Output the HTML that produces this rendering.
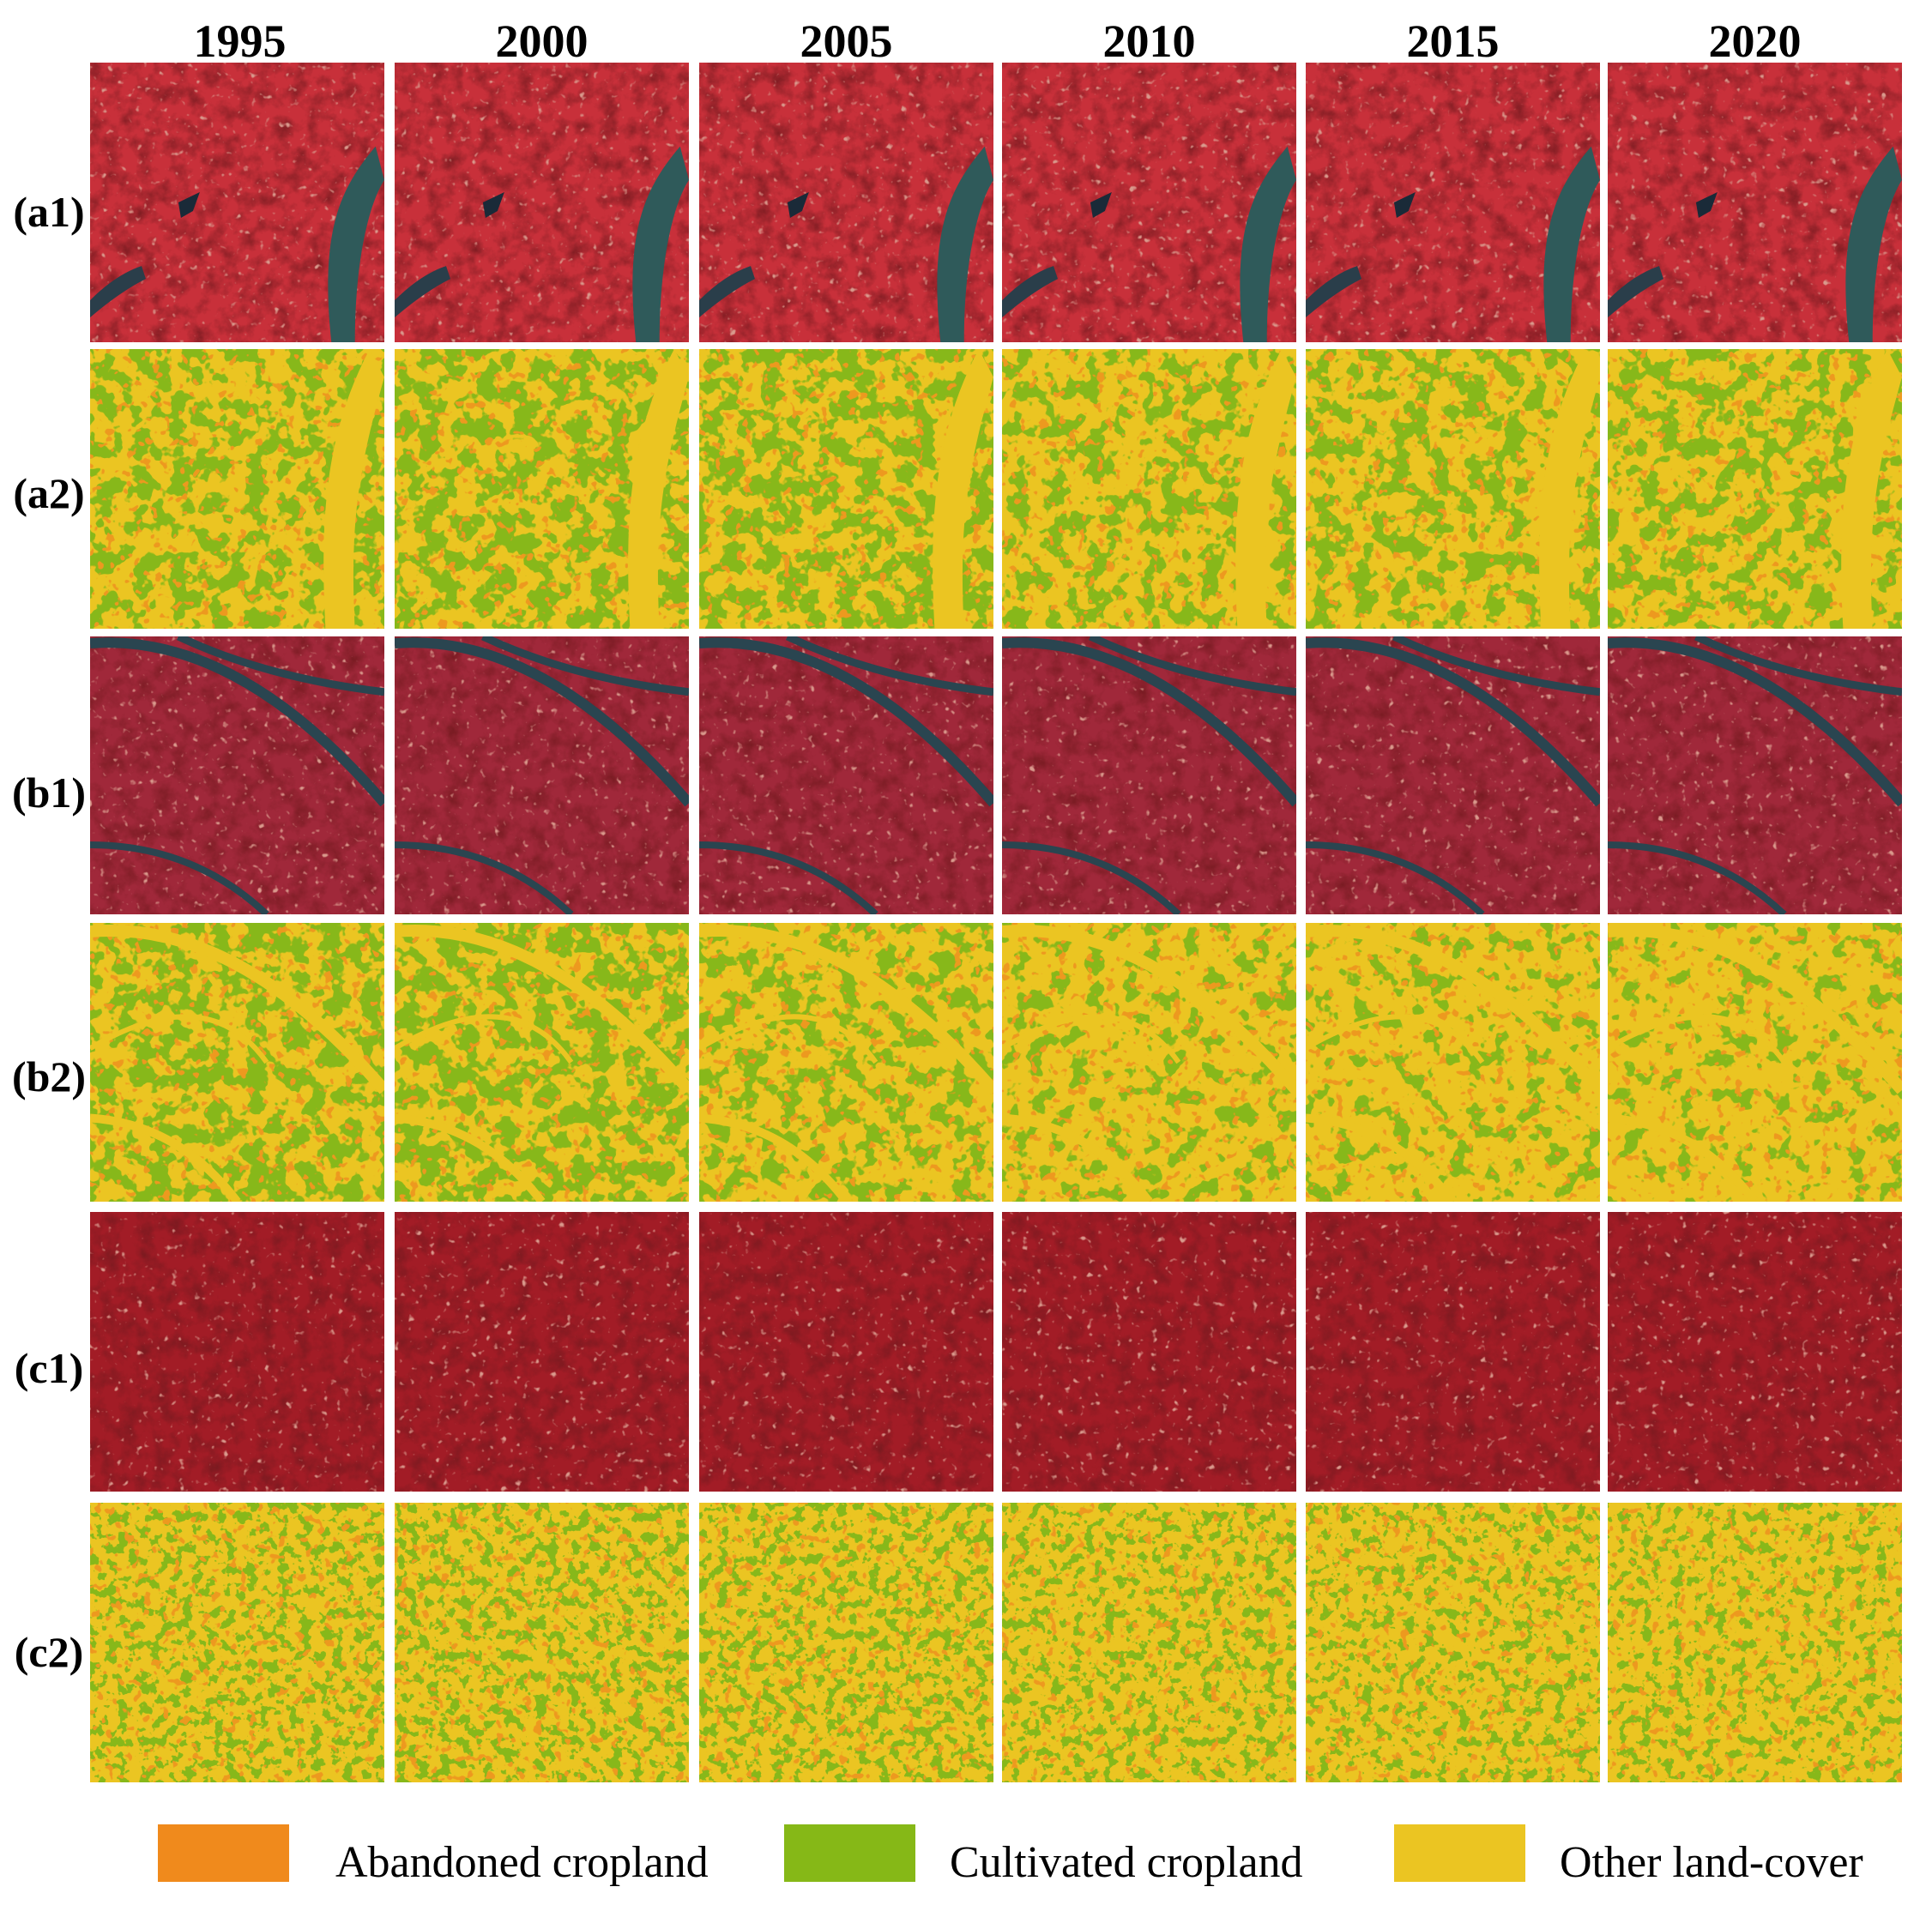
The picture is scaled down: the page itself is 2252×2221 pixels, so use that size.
<!DOCTYPE html>
<html><head><meta charset="utf-8"><style>
html,body{margin:0;padding:0;background:#fff;}
svg{display:block;}
</style></head><body>
<svg id="fig" width="2252" height="2221" viewBox="0 0 2252 2221" xmlns="http://www.w3.org/2000/svg">
<defs id="defs"></defs>
<g id="panels"></g>
<g id="labels" font-family="Liberation Serif, serif" font-weight="bold" fill="#000"></g>
<g id="legend" font-family="Liberation Serif, serif" fill="#000"></g>
</svg>
<script>
const years = ['1995','2000','2005','2010','2015','2020'];
const rowLabels = ['(a1)','(a2)','(b1)','(b2)','(c1)','(c2)'];
const rowKinds = ['img','map','img','map','img','map'];
// approximate green (cultivated) share per map row per year
const greenA2 = [0.5,0.55,0.55,0.45,0.47,0.47];
const greenB2 = [0.55,0.58,0.45,0.32,0.3,0.25];
const greenC2 = [0.38,0.38,0.38,0.35,0.32,0.3];
const imgBase = ['#c8303a','#a0283a','#a21c26'];
const legendLabels = ['Abandoned cropland','Cultivated cropland','Other land-cover'];
const legendColors = ['#f08a1c','#86b817','#ebc522'];

const colX = [105,460,815,1168,1522,1874];
const colW = 343;
const rowY = [73,407,742,1076,1413,1752];
const rowH = [326,326,324,325,326,326];
const rowLabelY = [247,575,924,1255,1595,1926];

const NS='http://www.w3.org/2000/svg';
const defs=document.getElementById('defs');
const panels=document.getElementById('panels');
function mk(tag,attrs,parent){const e=document.createElementNS(NS,tag);for(const k in attrs)e.setAttribute(k,attrs[k]);if(parent)parent.appendChild(e);return e;}

let fid=0;
function mapFilter(frac,seed,freq){
  const id='mf'+(fid++);
  const f=mk('filter',{id:id,x:'0',y:'0',width:'1',height:'1','color-interpolation-filters':'sRGB'},defs);
  mk('feTurbulence',{type:'fractalNoise',baseFrequency:freq,numOctaves:'3',seed:seed,result:'n'},f);
  const t=0.5+(0.5-frac)*0.35;
  mk('feColorMatrix',{in:'n',type:'matrix',values:'0 0 0 0 0.53 0 0 0 0 0.72 0 0 0 0 0.1 25 0 0 0 '+(-25*t),result:'g'},f);
  mk('feTurbulence',{type:'fractalNoise',baseFrequency:'0.09',numOctaves:'2',seed:seed+50,result:'n2'},f);
  mk('feColorMatrix',{in:'n2',type:'matrix',values:'0 0 0 0 0.93 0 0 0 0 0.6 0 0 0 0 0.12 20 0 0 0 -12.8',result:'o'},f);
  mk('feComposite',{in:'g',in2:'SourceGraphic',operator:'in',result:'g2'},f);
  mk('feComposite',{in:'o',in2:'SourceGraphic',operator:'in',result:'o2'},f);
  const m=mk('feMerge',{},f);
  mk('feMergeNode',{in:'SourceGraphic'},m);mk('feMergeNode',{in:'g2'},m);mk('feMergeNode',{in:'o2'},m);
  return id;
}
function imgFilter(seed){
  const id='if'+(fid++);
  const f=mk('filter',{id:id,x:'0',y:'0',width:'1',height:'1','color-interpolation-filters':'sRGB'},defs);
  mk('feTurbulence',{type:'fractalNoise',baseFrequency:'0.05',numOctaves:'4',seed:seed,result:'n'},f);
  mk('feColorMatrix',{in:'n',type:'matrix',values:'0 0 0 0 0.45 0 0 0 0 0.1 0 0 0 0 0.12 -1.6 0 0 0 0.95',result:'d'},f);
  mk('feTurbulence',{type:'fractalNoise',baseFrequency:'0.12',numOctaves:'2',seed:seed+7,result:'n2'},f);
  mk('feColorMatrix',{in:'n2',type:'matrix',values:'0 0 0 0 0.85 0 0 0 0 0.6 0 0 0 0 0.55 6 0 0 0 -4.0',result:'l'},f);
  mk('feComposite',{in:'d',in2:'SourceGraphic',operator:'in',result:'d2'},f);
  mk('feComposite',{in:'l',in2:'SourceGraphic',operator:'in',result:'l2'},f);
  const m=mk('feMerge',{},f);
  mk('feMergeNode',{in:'SourceGraphic'},m);mk('feMergeNode',{in:'d2'},m);mk('feMergeNode',{in:'l2'},m);
  return id;
}
const mapGreens=[greenA2,greenB2,greenC2];
for(let r=0;r<6;r++){
  for(let c=0;c<6;c++){
    const x=colX[c],y=rowY[r],w=colW,h=rowH[r];
    const g=mk('g',{},panels);
    
    
    const grp=Math.floor(r/2);
    const cp='cp'+r+'_'+c;
    const clip=mk('clipPath',{id:cp},defs);mk('rect',{x:x,y:y,width:w,height:h},clip);
    g.setAttribute('clip-path','url(#'+cp+')');
    if(rowKinds[r]==='img'){
      mk('rect',{x:x,y:y,width:w,height:h,fill:imgBase[grp],filter:'url(#'+imgFilter(r*10+c+1)+')'},g);
      if(grp===0){
        mk('path',{d:`M${x+w*0.97} ${y+h*0.3} C${x+w*0.85} ${y+h*0.45},${x+w*0.78} ${y+h*0.6},${x+w*0.82} ${y+h} L${x+w*0.9} ${y+h} C${x+w*0.9} ${y+h*0.7},${x+w*0.95} ${y+h*0.5},${x+w} ${y+h*0.42}Z`,fill:'#2f5a5a'},g);
        mk('path',{d:`M${x+w*0.3} ${y+h*0.5} l25 -12 l-8 22 l-14 8z`,fill:'#1a2a38'},g);
        mk('path',{d:`M${x} ${y+h*0.85} q30 -30 60 -40 l5 15 q-30 15 -65 45z`,fill:'#2a3e4a'},g);
      } else if(grp===1){
        mk('path',{d:`M${x} ${y+8} Q${x+w*0.5} ${y-5} ${x+w} ${y+h*0.6}`,stroke:'#2a4550',fill:'none','stroke-width':'12'},g);
        mk('path',{d:`M${x} ${y+h*0.75} Q${x+w*0.35} ${y+h*0.75} ${x+w*0.6} ${y+h}`,stroke:'#2a4550',fill:'none','stroke-width':'8'},g);
        mk('path',{d:`M${x+w*0.3} ${y} Q${x+w*0.6} ${y+h*0.15} ${x+w} ${y+h*0.2}`,stroke:'#2a4550',fill:'none','stroke-width':'9'},g);
      }
    } else {
      const fr=mapGreens[grp][c];
      mk('rect',{x:x,y:y,width:w,height:h,fill:'#ebc522',filter:'url(#'+mapFilter(fr,r*10+c+3,grp===2?'0.08':'0.045')+')'},g);
      if(grp===0){
        mk('path',{d:`M${x+w*0.95} ${y} C${x+w*0.8} ${y+h*0.3},${x+w*0.78} ${y+h*0.6},${x+w*0.8} ${y+h} L${x+w*0.9} ${y+h} C${x+w*0.88} ${y+h*0.6},${x+w*0.92} ${y+h*0.4},${x+w} ${y+h*0.1}Z`,fill:'#ebc522'},g);
      } else if(grp===1){
        mk('path',{d:`M${x} ${y+10} Q${x+w*0.5} ${y-5} ${x+w} ${y+h*0.6}`,stroke:'#ebc522',fill:'none','stroke-width':'14'},g);
        mk('path',{d:`M${x} ${y+h*0.7} Q${x+w*0.3} ${y+h*0.72} ${x+w*0.5} ${y+h}`,stroke:'#ebc522',fill:'none','stroke-width':'10'},g);
        mk('path',{d:`M${x} ${y+h*0.45} Q${x+w*0.4} ${y+h*0.2} ${x+w*0.6} ${y+h*0.5}`,stroke:'#ebc522',fill:'none','stroke-width':'6'},g);
      }
    }
  }
}
const lab=document.getElementById('labels');
years.forEach((yr,i)=>{
  const t=mk('text',{x:colX[i]+colW/2+(i===0?3:0),y:66,'font-size':'54','text-anchor':'middle'},lab);
  t.textContent=yr;
  
  
});
rowLabels.forEach((rl,i)=>{
  const t=mk('text',{x:57,y:rowLabelY[i]+17,'font-size':'50','text-anchor':'middle'},lab);
  t.textContent=rl;
  
  
});
const leg=document.getElementById('legend');
const legBoxX=[184,914,1625];
const legTextX=[391,1107,1818];
legendLabels.forEach((l,i)=>{
  const g=mk('g',{},leg);
  
  
  const r=mk('rect',{x:legBoxX[i],y:2127,width:153,height:67,fill:legendColors[i]},g);
  
  
  const t=mk('text',{x:legTextX[i],y:2188,'font-size':'52'},g);
  t.textContent=l;
  
  
});
</script>
</body></html>
